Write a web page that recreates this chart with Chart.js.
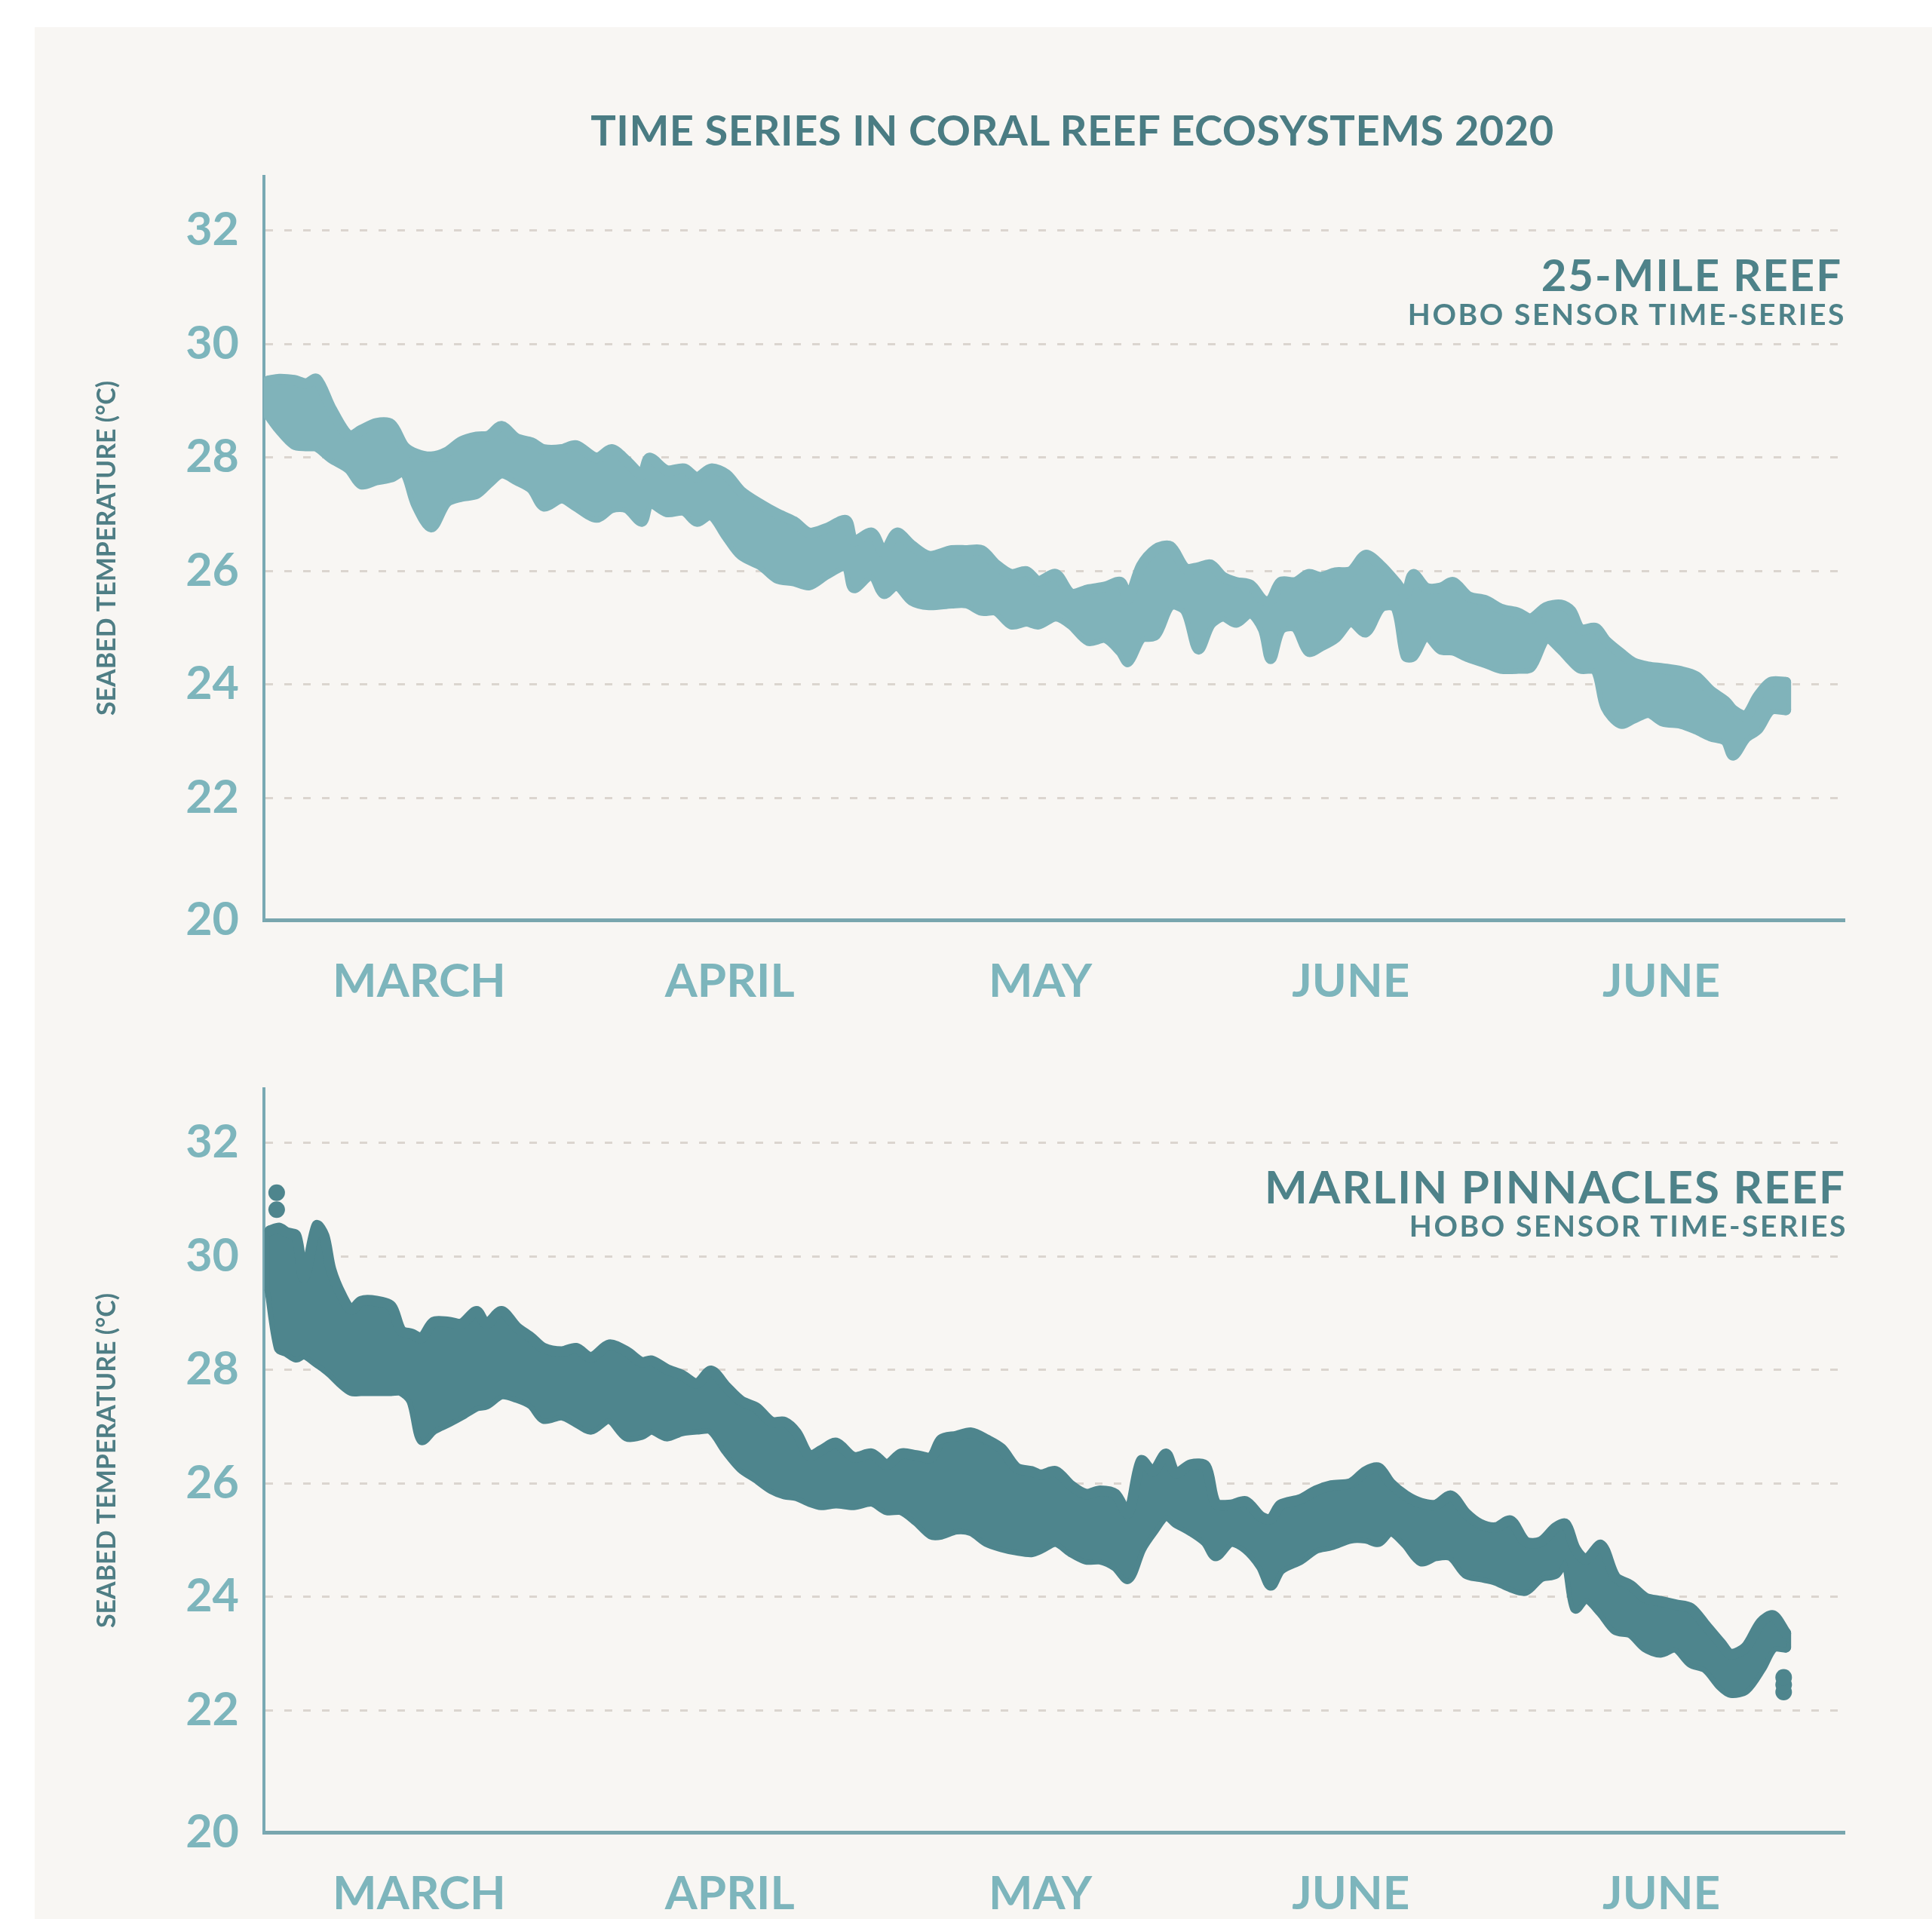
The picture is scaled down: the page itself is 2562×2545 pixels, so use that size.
<!DOCTYPE html>
<html><head><meta charset="utf-8">
<script src="https://cdn.jsdelivr.net/npm/chart.js@4"></script>
<style>
html,body{margin:0;padding:0;background:#ffffff;width:2562px;height:2545px;overflow:hidden;font-family:Lato,'Open Sans',sans-serif;}
#panel{position:absolute;left:46px;top:36px;width:2516px;height:2509px;background:#f8f6f3;}
canvas{position:absolute;left:0;}
.t{position:absolute;white-space:nowrap;font-weight:700;line-height:1;font-family:Lato,'Open Sans',sans-serif;}
</style></head><body>
<div id="panel"></div>
<canvas id="c1" width="2562" height="1400" style="top:0px"></canvas>
<canvas id="c2" width="2562" height="1335" style="top:1210px"></canvas>
<div class="t" id="title" style="left:1422px;top:144px;transform:translateX(-50%);font-size:56px;color:#4a7c83;letter-spacing:0.5px;">TIME SERIES IN CORAL REEF ECOSYSTEMS 2020</div>
<div class="t" style="right:119px;top:335px;font-size:58px;color:#4e8289;letter-spacing:2px;">25-MILE REEF</div>
<div class="t" style="right:114px;top:397px;font-size:39px;color:#4e8289;letter-spacing:2.6px;">HOBO SENSOR TIME-SERIES</div>
<div class="t" style="right:114px;top:1543px;font-size:60px;color:#4e8289;letter-spacing:2px;">MARLIN PINNACLES REEF</div>
<div class="t" style="right:112px;top:1606px;font-size:39px;color:#4e8289;letter-spacing:2.6px;">HOBO SENSOR TIME-SERIES</div>
<script>
// ---- data (x in months from start of record, y in °C) ----
const MONTHS = ['MARCH','APRIL','MAY','JUNE','JUNE'];
const MONTH_POS = [0.5, 1.5, 2.5, 3.5, 4.5];
const Y_TICKS = [22, 24, 26, 28, 30, 32];

const topX = [0.015,0.049,0.097,0.136,0.170,0.216,0.274,0.313,0.362,0.410,
0.452,0.491,0.539,0.588,0.636,0.685,0.724,0.765,0.814,0.862,
0.901,0.959,1.005,1.071,1.120,1.168,1.217,1.241,1.297,1.353,
1.394,1.440,1.489,1.537,1.603,1.652,1.707,1.756,1.812,1.875,
1.899,1.958,1.996,2.038,2.086,2.142,2.215,2.264,2.312,2.358,
2.407,2.455,2.494,2.550,2.599,2.655,2.710,2.759,2.783,2.825,
2.871,2.919,2.968,3.009,3.048,3.089,3.131,3.177,3.218,3.242,
3.274,3.322,3.364,3.403,3.451,3.500,3.548,3.597,3.645,3.677,
3.701,3.743,3.789,3.830,3.879,3.934,3.983,4.039,4.080,4.129,
4.177,4.209,4.240,4.289,4.321,4.369,4.411,4.459,4.505,4.563,
4.612,4.658,4.707,4.731,4.772,4.811,4.852,4.901];
const topUpper = [29.35,29.38,29.36,29.30,29.38,28.87,28.38,28.48,28.60,28.58,
28.19,28.06,28.01,28.09,28.28,28.36,28.38,28.55,28.33,28.26,
28.14,28.14,28.21,27.99,28.14,27.94,27.70,27.99,27.77,27.80,
27.65,27.80,27.70,27.40,27.16,27.01,26.87,26.67,26.75,26.89,
26.53,26.67,26.33,26.67,26.45,26.26,26.36,26.36,26.36,26.11,
25.94,25.99,25.82,25.94,25.60,25.67,25.72,25.80,25.50,26.09,
26.38,26.43,26.04,26.06,26.11,25.89,25.80,25.75,25.48,25.48,
25.80,25.80,25.94,25.89,25.97,25.99,26.28,26.09,25.80,25.60,
25.94,25.70,25.70,25.80,25.55,25.48,25.33,25.26,25.16,25.36,
25.40,25.30,24.97,24.99,24.77,24.55,24.38,24.31,24.28,24.23,
24.14,23.89,23.70,23.55,23.45,23.79,24.04,24.04];
const topLower = [28.75,28.50,28.23,28.20,28.19,27.99,27.80,27.53,27.60,27.65,
27.75,27.16,26.77,27.21,27.31,27.36,27.55,27.72,27.60,27.45,
27.14,27.28,27.14,26.94,27.11,27.11,26.87,27.20,27.04,27.06,
26.87,26.99,26.62,26.28,26.09,25.87,25.82,25.75,25.94,26.09,
25.70,25.94,25.60,25.75,25.48,25.40,25.43,25.43,25.30,25.30,
25.06,25.11,25.06,25.20,25.06,24.77,24.82,24.58,24.40,24.82,
24.87,25.40,25.30,24.62,25.06,25.20,25.09,25.26,24.97,24.45,
24.97,25.01,24.58,24.67,24.82,25.11,24.92,25.36,25.36,24.50,
24.50,24.87,24.62,24.60,24.48,24.38,24.28,24.28,24.31,24.82,
24.62,24.43,24.28,24.26,23.60,23.31,23.40,23.50,23.35,23.31,
23.21,23.09,23.01,22.75,23.06,23.21,23.55,23.55];

const botX = [0.019,0.049,0.073,0.104,0.129,0.170,0.194,0.216,0.250,0.282,
0.313,0.362,0.410,0.442,0.476,0.508,0.546,0.595,0.636,0.685,
0.716,0.765,0.814,0.862,0.901,0.959,1.005,1.054,1.112,1.168,
1.217,1.248,1.297,1.345,1.394,1.440,1.489,1.537,1.586,1.635,
1.676,1.715,1.756,1.795,1.843,1.899,1.958,2.006,2.052,2.101,
2.149,2.181,2.230,2.278,2.327,2.375,2.424,2.472,2.502,2.550,
2.599,2.647,2.693,2.742,2.783,2.825,2.863,2.905,2.936,2.985,
3.033,3.065,3.114,3.162,3.211,3.242,3.274,3.339,3.388,3.437,
3.500,3.548,3.590,3.628,3.677,3.726,3.774,3.823,3.871,3.917,
3.966,4.015,4.063,4.112,4.160,4.192,4.223,4.257,4.306,4.352,
4.401,4.449,4.498,4.546,4.595,4.644,4.692,4.724,4.772,4.821,
4.860,4.901];
const botUpper = [30.45,30.50,30.42,30.36,29.62,30.54,30.36,29.77,29.31,29.06,
29.21,29.21,29.12,28.69,28.63,28.56,28.84,28.84,28.81,29.03,
28.81,29.03,28.75,28.56,28.38,28.32,28.38,28.22,28.44,28.32,
28.13,28.16,28.01,27.91,27.76,27.98,27.70,27.45,27.33,27.08,
27.08,26.89,26.49,26.58,26.71,26.46,26.52,26.33,26.52,26.49,
26.46,26.77,26.83,26.89,26.77,26.61,26.27,26.21,26.15,26.21,
25.96,25.81,25.87,25.81,25.47,26.40,26.21,26.52,26.18,26.33,
26.30,25.65,25.62,25.68,25.41,25.37,25.62,25.72,25.87,25.96,
26.00,26.21,26.27,26.00,25.78,25.65,25.62,25.78,25.47,25.28,
25.22,25.34,24.97,24.97,25.22,25.28,24.85,24.66,24.91,24.35,
24.20,23.98,23.92,23.86,23.80,23.49,23.18,22.99,23.11,23.55,
23.67,23.36];
const botLower = [29.40,28.38,28.32,28.22,28.28,28.13,28.04,27.94,27.76,27.63,
27.63,27.63,27.63,27.63,27.45,26.77,26.95,27.08,27.20,27.36,
27.39,27.57,27.51,27.39,27.14,27.20,27.08,26.95,27.14,26.83,
26.86,26.95,26.83,26.92,26.95,26.95,26.58,26.27,26.09,25.90,
25.81,25.78,25.68,25.62,25.65,25.62,25.68,25.53,25.53,25.34,
25.10,25.10,25.19,25.16,24.97,24.88,24.82,24.79,24.85,24.97,
24.79,24.66,24.66,24.54,24.32,24.85,25.16,25.44,25.31,25.16,
24.97,24.72,24.97,24.85,24.54,24.20,24.48,24.66,24.85,24.91,
25.03,25.03,24.97,25.16,24.94,24.63,24.72,24.72,24.41,24.35,
24.29,24.17,24.11,24.35,24.41,24.66,23.80,23.98,23.73,23.42,
23.36,23.11,23.02,23.11,22.84,22.74,22.43,22.31,22.37,22.74,
23.11,23.11];
// isolated readings drawn as blobs in the lower panel
const botSpikeX = [0.041, 0.041];
const botSpikeY = [31.12, 30.82];
const botTailX = [4.894, 4.894, 4.894];
const botTailY = [22.32, 22.45, 22.58];

// ---- chart building ----
const Y_MIN = 19.85, Y_MAX = 32.95, X_MAX = 5.09;
const pts = (xs, ys) => xs.map((x, i) => ({x: x, y: ys[i]}));

function build(id, xs, up, lo, color, extras, xAxisH) {
  const line = {borderColor: color, backgroundColor: color, borderWidth: 14, pointRadius: 0,
    tension: 0.3, borderJoinStyle: 'round', borderCapStyle: 'round'};
  const n = xs.length - 1;
  const datasets = [
    Object.assign({data: pts(xs, up), fill: '+1'}, line),
    Object.assign({data: pts(xs, lo), fill: false}, line),
    // closing strokes at both ends of the band (from first/last readings)
    Object.assign({}, line, {data: [{x: xs[0], y: up[0]}, {x: xs[0], y: lo[0]}], fill: false, tension: 0}),
    Object.assign({}, line, {data: [{x: xs[n], y: up[n]}, {x: xs[n], y: lo[n]}], fill: false, tension: 0})
  ];
  extras.forEach(d => datasets.push({data: d, showLine: false, fill: false, pointRadius: 11,
    pointBackgroundColor: color, pointBorderWidth: 0, pointHoverRadius: 11}));
  return new Chart(document.getElementById(id), {
    type: 'line',
    data: {datasets: datasets},
    options: {
      responsive: false, animation: false, devicePixelRatio: 1,
      layout: {padding: {top: 234, right: 116, left: 0, bottom: 0}},
      plugins: {legend: {display: false}, tooltip: {enabled: false}},
      scales: {
        x: {
          type: 'linear', min: 0, max: X_MAX,
          afterBuildTicks: s => { s.ticks = MONTH_POS.map(v => ({value: v})); },
          afterFit: s => { s.height = xAxisH; },
          grid: {display: false, drawTicks: false},
          border: {display: true, color: '#79a6ae', width: 5},
          ticks: {padding: 45, color: '#7db5bc', autoSkip: false, maxRotation: 0,
            font: {family: 'Lato', size: 62, weight: 'bold'},
            callback: (v, i) => MONTHS[i]}
        },
        y: {
          min: Y_MIN, max: Y_MAX,
          afterBuildTicks: s => { s.ticks = [Y_MIN].concat(Y_TICKS).map(v => ({value: v})); },
          afterFit: s => { s.width = 350; },
          grid: {color: c => (c.tick && c.tick.value < 21) ? 'rgba(0,0,0,0)' : '#dbd5cf',
                 lineWidth: 3, drawTicks: false},
          border: {display: true, color: '#79a9b3', width: 4, dash: [10, 15]},
          ticks: {padding: 33, color: '#7db5bc', autoSkip: false,
            font: {family: 'Lato', size: 61, weight: 'bold'},
            callback: v => v < 21 ? '20' : String(v)},
          title: {display: true, text: 'SEABED TEMPERATURE (°C)', color: '#4f7e85',
            font: {family: 'Lato', size: 34, weight: 'bold'}, padding: {top: 122, bottom: 0}}
        }
      }
    }
  });
}

build('c1', topX, topUpper, topLower, '#80b3ba', [], 180);
build('c2', botX, botUpper, botLower, '#4e858d',
      [pts(botSpikeX, botSpikeY), pts(botTailX, botTailY)], 115);
</script>
</body></html>
